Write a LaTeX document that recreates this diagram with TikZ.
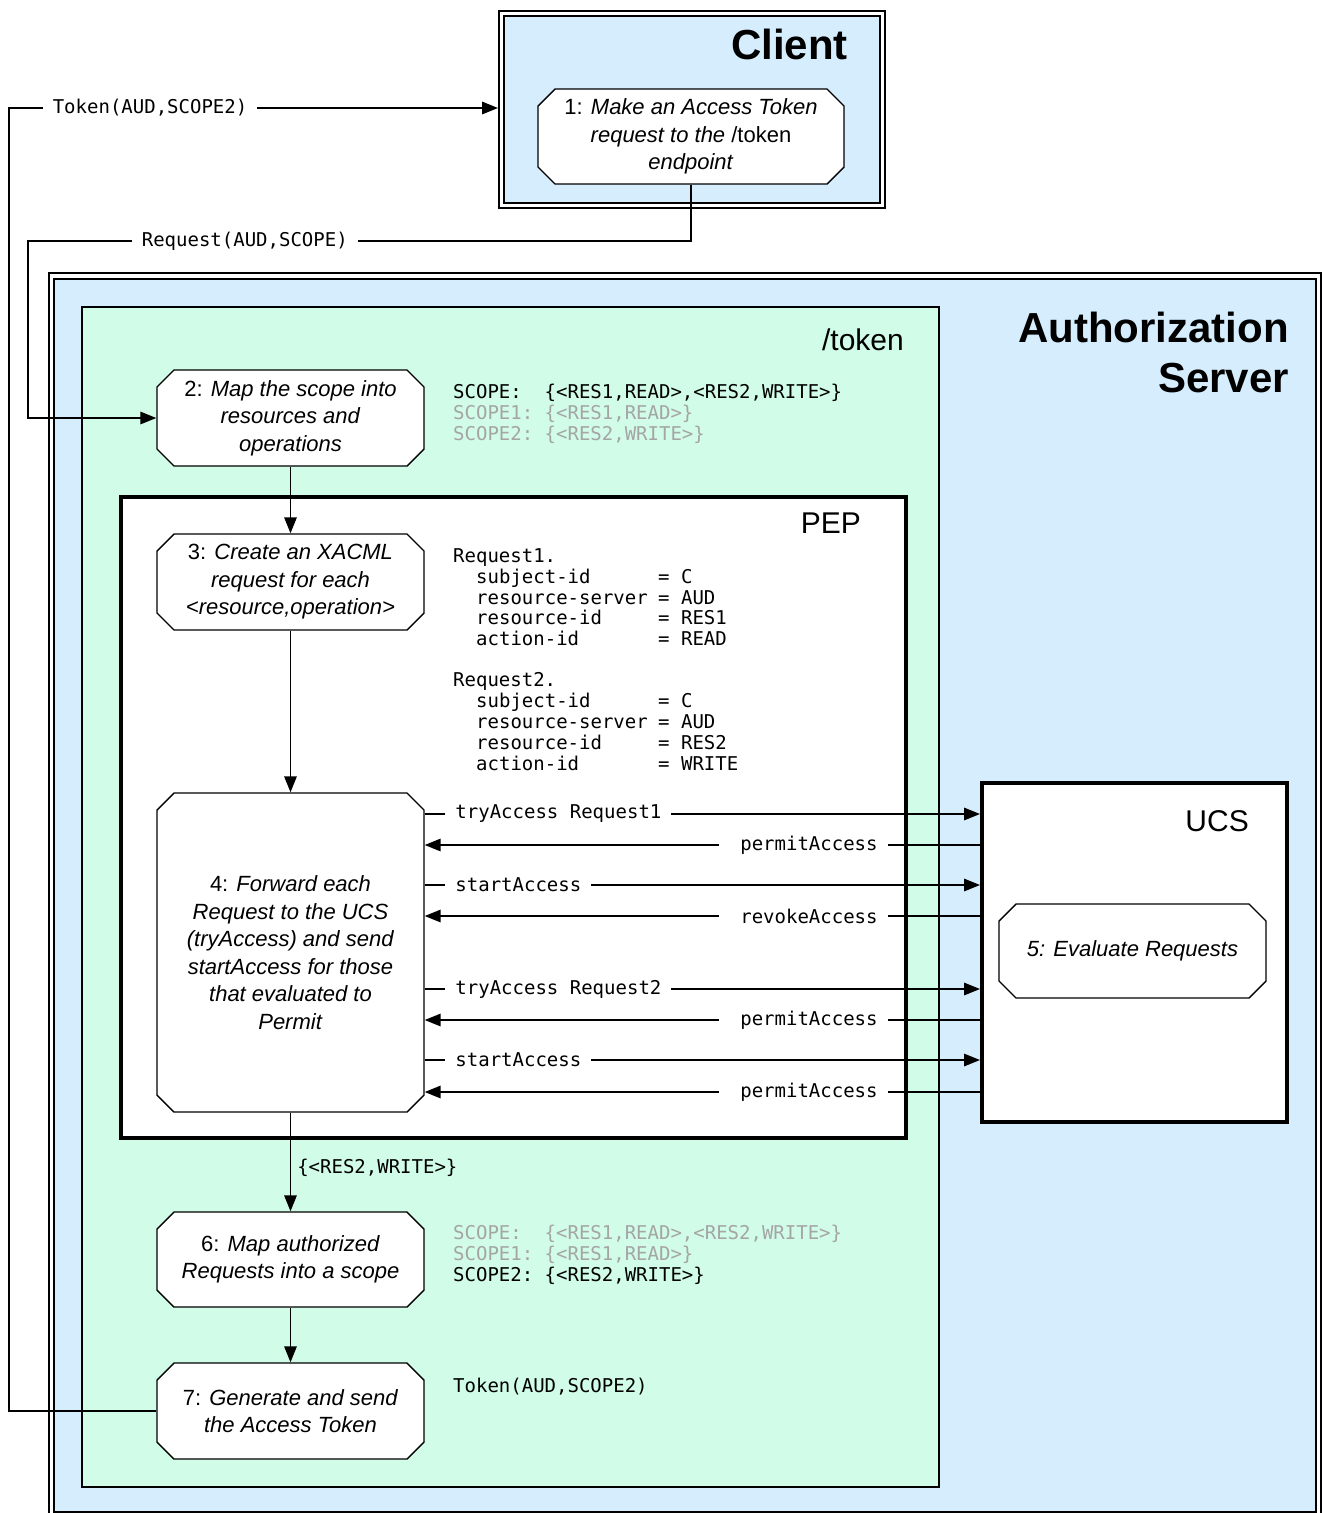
\documentclass[tikz,border=0pt]{standalone}
\usepackage{fontspec}
\setmainfont{Liberation Sans}
\setmonofont{DejaVu Sans Mono}
\usetikzlibrary{arrows.meta,shapes.misc}
\definecolor{cblue}{RGB}{214,237,253}
\definecolor{cmint}{RGB}{208,252,232}
\definecolor{cgray}{RGB}{165,165,165}
\tikzset{
  box/.style={draw, rectangle, line width=1.5pt, inner sep=0pt},
  stepbox/.style={chamfered rectangle, chamfered rectangle xsep=8.5pt, chamfered rectangle ysep=8.5pt,
    draw, line width=1.4pt, fill=white, minimum width=267pt, minimum height=96pt, inner sep=0pt,
    align=center, font=\fontsize{22}{27.5}\selectfont},
  bigtitle/.style={inner sep=0pt, font=\bfseries\fontsize{42}{46}\selectfont},
  subtitle/.style={inner sep=0pt, font=\fontsize{30}{34}\selectfont},
  mono/.style={inner sep=0pt, font=\ttfamily\fontsize{19}{21}\selectfont},
  faint/.style={mono, text=cgray},
  conn/.style={line width=1.6pt},
  arr/.style={conn, -{Triangle[length=16pt,width=12.5pt]}},
  lbl/.style={mono, fill=white, inner xsep=10pt, inner ysep=3pt}
}
\begin{document}
\begin{tikzpicture}[x=1pt,y=-1pt]
\useasboundingbox (0,0) rectangle (1322,1513);

% Client
\node[box, fill=white, minimum width=386pt, minimum height=197pt, anchor=north west] (clientO) at (498,10) {};
\node[box, fill=cblue, minimum width=376pt, minimum height=187pt, anchor=north west] (client) at (503,15) {};
\node[bigtitle, anchor=base east] (clientT) at (848,59) {Client};

% Authorization server
\node[box, fill=white, minimum width=1272pt, minimum height=1260pt, anchor=north west] (asO) at (48,272) {};
\node[box, fill=cblue, minimum width=1262pt, minimum height=1233pt, anchor=north west] (as) at (53,278) {};
\node[bigtitle, anchor=base east] (asT1) at (1289,342) {Authorization};
\node[bigtitle, anchor=base east] (asT2) at (1289,392) {Server};

% /token
\node[box, fill=cmint, minimum width=857pt, minimum height=1180pt, anchor=north west] (tok) at (81,306) {};
\node[subtitle, anchor=base east] (tokT) at (904,350) {/token};

% PEP
\node[box, fill=white, line width=3.5pt, minimum width=785pt, minimum height=641pt, anchor=north west] (pep) at (119,495) {};
\node[subtitle, anchor=base east] (pepT) at (861,533) {PEP};

% UCS
\node[box, fill=white, line width=3.5pt, minimum width=305pt, minimum height=339pt, anchor=north west] (ucs) at (980,781) {};
\node[subtitle, anchor=base east] (ucsT) at (1249,831) {UCS};

% steps
\node[stepbox, minimum width=306pt, minimum height=95pt] (b1) at (691,136.5)
  {1: \textit{Make an Access Token}\\ \textit{request to the} /token\\ \textit{endpoint}};
\node[stepbox] (b2) at (290.5,418)
  {2: \textit{Map the scope into}\\ \textit{resources and}\\ \textit{operations}};
\node[stepbox] (b3) at (290.5,582)
  {3: \textit{Create an XACML}\\ \textit{request for each}\\ \textit{<resource,operation>}};
\node[stepbox, minimum height=319pt] (b4) at (290.5,952.5)
  {4: \textit{Forward each}\\ \textit{Request to the UCS}\\ \textit{(tryAccess) and send}\\ \textit{startAccess for those}\\ \textit{that evaluated to}\\ \textit{Permit}};
\node[stepbox, minimum height=94pt] (b5) at (1132.5,951) {\textit{5: Evaluate Requests}};
\node[stepbox, minimum height=95pt] (b6) at (290.5,1259.5)
  {6: \textit{Map authorized}\\ \textit{Requests into a scope}};
\node[stepbox] (b7) at (290.5,1411)
  {7: \textit{Generate and send}\\ \textit{the Access Token}};

% scope texts
\node[mono, anchor=base west] (sa1) at (453,398) {SCOPE:~~\{<RES1,READ>,<RES2,WRITE>\}};
\node[faint, anchor=base west] (sa2) at (453,419) {SCOPE1:~\{<RES1,READ>\}};
\node[faint, anchor=base west] (sa3) at (453,440) {SCOPE2:~\{<RES2,WRITE>\}};

\node[faint, anchor=base west] (sb1) at (453,1239) {SCOPE:~~\{<RES1,READ>,<RES2,WRITE>\}};
\node[faint, anchor=base west] (sb2) at (453,1260) {SCOPE1:~\{<RES1,READ>\}};
\node[mono, anchor=base west] (sb3) at (453,1281) {SCOPE2:~\{<RES2,WRITE>\}};

\node[mono, anchor=base west] (tokres) at (453,1392) {Token(AUD,SCOPE2)};

% request block
\node[mono, anchor=base west] (q1) at (453,562) {Request1.};
\node[mono, anchor=base west] (q1a) at (476,583) {subject-id};
\node[mono, anchor=base west] (q1b) at (476,604) {resource-server};
\node[mono, anchor=base west] (q1c) at (476,624) {resource-id};
\node[mono, anchor=base west] (q1d) at (476,645) {action-id};
\node[mono, anchor=base west] (v1a) at (658,583) {=~C};
\node[mono, anchor=base west] (v1b) at (658,604) {=~AUD};
\node[mono, anchor=base west] (v1c) at (658,624) {=~RES1};
\node[mono, anchor=base west] (v1d) at (658,645) {=~READ};
\node[mono, anchor=base west] (q2) at (453,686) {Request2.};
\node[mono, anchor=base west] (q2a) at (476,707) {subject-id};
\node[mono, anchor=base west] (q2b) at (476,728) {resource-server};
\node[mono, anchor=base west] (q2c) at (476,749) {resource-id};
\node[mono, anchor=base west] (q2d) at (476,770) {action-id};
\node[mono, anchor=base west] (v2a) at (658,707) {=~C};
\node[mono, anchor=base west] (v2b) at (658,728) {=~AUD};
\node[mono, anchor=base west] (v2c) at (658,749) {=~RES2};
\node[mono, anchor=base west] (v2d) at (658,770) {=~WRITE};

% outer connectors
\coordinate (tk) at (9,108);
\coordinate (rq) at (28,241);
\draw[arr] (b7.west) -| (tk) -- node[lbl, anchor=west, pos=0.0675] {Token(AUD,SCOPE2)} (clientO.west |- tk);
\draw[arr] (b1.south) -- (b1.south |- rq) -- node[lbl, anchor=west, pos=0.8446] {Request(AUD,SCOPE)~} (rq) |- (b2.west);

% vertical flow
\draw[arr] (b2.south) -- (b3.north);
\draw[arr] (b3.south) -- (b4.north);
\draw[arr] (b4.south) -- node[mono, anchor=west, pos=0.56, inner xsep=6pt] {\{<RES2,WRITE>\}} (b6.north);
\draw[arr] (b6.south) -- (b7.north);

% PEP <-> UCS
\coordinate (y1) at (0,814);
\coordinate (y2) at (0,845);
\coordinate (y3) at (0,885);
\coordinate (y4) at (0,916);
\coordinate (y5) at (0,989);
\coordinate (y6) at (0,1020);
\coordinate (y7) at (0,1060);
\coordinate (y8) at (0,1092);
\draw[arr] (b4.east |- y1) -- node[lbl, anchor=west, pos=0.036] {tryAccess Request1} (ucs.west |- y1);
\draw[arr] (ucs.west |- y2) -- node[lbl, anchor=east, pos=0.165] {~permitAccess} (b4.east |- y2);
\draw[arr] (b4.east |- y3) -- node[lbl, anchor=west, pos=0.036] {startAccess~} (ucs.west |- y3);
\draw[arr] (ucs.west |- y4) -- node[lbl, anchor=east, pos=0.165] {~revokeAccess} (b4.east |- y4);
\draw[arr] (b4.east |- y5) -- node[lbl, anchor=west, pos=0.036] {tryAccess Request2} (ucs.west |- y5);
\draw[arr] (ucs.west |- y6) -- node[lbl, anchor=east, pos=0.165] {~permitAccess} (b4.east |- y6);
\draw[arr] (b4.east |- y7) -- node[lbl, anchor=west, pos=0.036] {startAccess~} (ucs.west |- y7);
\draw[arr] (ucs.west |- y8) -- node[lbl, anchor=east, pos=0.165] {~permitAccess} (b4.east |- y8);
\end{tikzpicture}
\end{document}
